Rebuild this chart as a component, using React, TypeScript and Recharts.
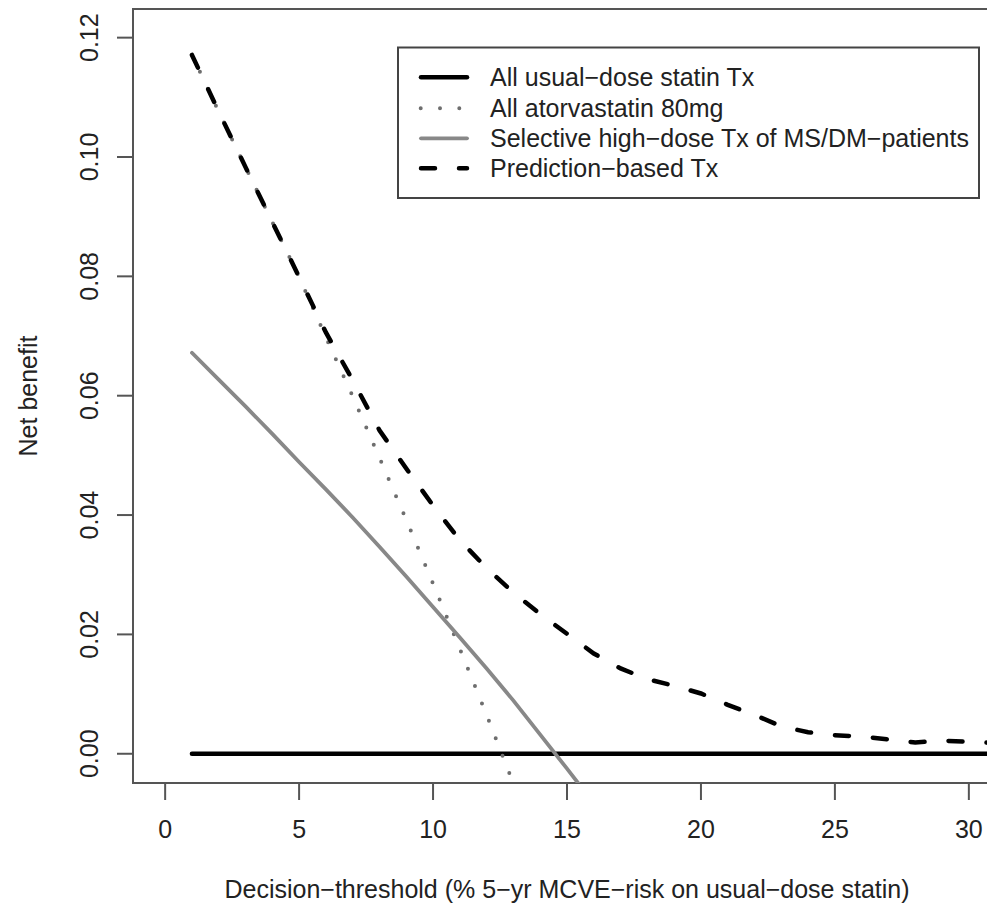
import React from 'react';
import { LineChart, Line, XAxis, YAxis, ReferenceArea } from 'recharts';

// decision thresholds (% 5-yr MCVE risk)
const thresholds = [1, 2, 3, 4, 5, 6, 7, 8, 9, 10, 11, 12, 13, 14, 15, 16, 17, 18, 19, 20, 21, 22, 23, 24, 25, 26, 27, 28, 29, 30, 31];

const usualDose = [0, 0, 0, 0, 0, 0, 0, 0, 0, 0, 0, 0, 0, 0, 0, 0, 0, 0, 0, 0, 0, 0, 0, 0, 0, 0, 0, 0, 0, 0, 0];
const atorvastatin80 = [0.1171, 0.1076, 0.0983, 0.0891, 0.0799, 0.0698, 0.0599, 0.0496, 0.0392, 0.0285, 0.0176, 0.0065, -0.005, -0.017];
const selectiveHighDose = [0.0672, 0.0627, 0.0582, 0.0536, 0.0489, 0.0443, 0.0396, 0.0347, 0.0297, 0.0246, 0.0195, 0.0143, 0.0089, 0.0032, -0.0025, -0.0083];
const predictionBased = [0.1171, 0.1076, 0.0983, 0.0891, 0.0799, 0.0706, 0.0626, 0.0542, 0.0478, 0.0416, 0.0358, 0.0311, 0.027, 0.0234, 0.0201, 0.0168, 0.0143, 0.0125, 0.0114, 0.0101, 0.0082, 0.0065, 0.0046, 0.0036, 0.0031, 0.0029, 0.0024, 0.0019, 0.0022, 0.002, 0.0018];

const xTicks = [0, 5, 10, 15, 20, 25, 30];
const yTicks = [0, 0.02, 0.04, 0.06, 0.08, 0.1, 0.12];

const legendLabels = [
    'All usual\u2212dose statin Tx',
    'All atorvastatin 80mg',
    'Selective high\u2212dose Tx of MS/DM\u2212patients',
    'Prediction\u2212based Tx',
];

const data = thresholds.map((t, i) => ({
    t,
    usual: usualDose[i] ?? null,
    atorva: atorvastatin80[i] ?? null,
    selective: selectiveHighDose[i] ?? null,
    prediction: predictionBased[i] ?? null,
}));

const FONT = '"Liberation Sans", Arial, Helvetica, sans-serif';
const TEXT = '#222';
const X_DOMAIN = [-1.2, 31.2];
const Y_DOMAIN = [-0.0049, 0.1248];

const styles = [
    { stroke: '#000', strokeWidth: 4.5, strokeDasharray: undefined, strokeLinecap: 'round' },
    { stroke: '#6e6e6e', strokeWidth: 4, strokeDasharray: '0 18.7', strokeLinecap: 'round' },
    { stroke: '#888', strokeWidth: 3.8, strokeDasharray: undefined, strokeLinecap: 'round' },
    { stroke: '#000', strokeWidth: 4.5, strokeDasharray: '14 24', strokeLinecap: 'round' },
];

const XTick = (props: any) => (
    <text x={props.x} y={838} textAnchor='middle' fontSize={25} fontFamily={FONT} fill={TEXT}>
        {props.payload.value}
    </text>
);

const YTick = (props: any) => (
    <text
        x={98}
        y={props.y}
        transform={`rotate(-90, 98, ${props.y})`}
        textAnchor='middle'
        fontSize={25}
        fontFamily={FONT}
        fill={TEXT}
    >
        {Number(props.payload.value).toFixed(2)}
    </text>
);

const LegendBox = () => {
    const rows = [77.3, 108.3, 138.3, 168.3];
    return (
        <svg width={987} height={904} style={{ position: 'absolute', left: 0, top: 0, pointerEvents: 'none' }}>
            <rect x={398} y={47.5} width={581} height={150.5} fill='#fff' stroke='#444' strokeWidth={2} />
            {legendLabels.map((label, i) => (
                <g key={label}>
                    {i === 1 ? (
                        <line x1={420.7} x2={462} y1={rows[i]} y2={rows[i]} {...(styles[i] as any)} strokeDasharray='0 19.3' />
                    ) : (
                        <line x1={421} x2={467} y1={rows[i]} y2={rows[i]} {...(styles[i] as any)} />
                    )}
                    <text x={490} y={rows[i] + 9} fontSize={25} fontFamily={FONT} fill={TEXT}>
                        {label}
                    </text>
                </g>
            ))}
        </svg>
    );
};

const App = () => {
    return (
        <div style={{ position: 'absolute', left: 0, top: 0, width: 987, height: 904, overflow: 'hidden', background: '#fff' }}>
            <LineChart width={1010} height={904} data={data} margin={{ top: 9, right: 9, bottom: 0, left: 0 }}>
                <XAxis
                    type='number'
                    dataKey='t'
                    domain={X_DOMAIN}
                    allowDataOverflow
                    ticks={xTicks}
                    tick={XTick}
                    tickSize={17}
                    tickLine={{ stroke: '#555', strokeWidth: 2 }}
                    axisLine={false}
                    height={121}
                    interval={0}
                />
                <YAxis
                    type='number'
                    domain={Y_DOMAIN}
                    allowDataOverflow
                    ticks={yTicks}
                    tick={YTick}
                    tickSize={16}
                    tickLine={{ stroke: '#555', strokeWidth: 2 }}
                    axisLine={false}
                    width={133}
                    interval={0}
                />
                <ReferenceArea
                    x1={X_DOMAIN[0]}
                    x2={X_DOMAIN[1]}
                    y1={Y_DOMAIN[0]}
                    y2={Y_DOMAIN[1]}
                    fill='none'
                    fillOpacity={0}
                    stroke='#555'
                    strokeWidth={2}
                    strokeOpacity={1}
                />
                <Line type='linear' dataKey='usual' dot={false} activeDot={false} isAnimationActive={false} {...(styles[0] as any)} />
                <Line type='linear' dataKey='atorva' dot={false} activeDot={false} isAnimationActive={false} {...(styles[1] as any)} />
                <Line type='linear' dataKey='selective' dot={false} activeDot={false} isAnimationActive={false} {...(styles[2] as any)} />
                <Line type='linear' dataKey='prediction' dot={false} activeDot={false} isAnimationActive={false} {...(styles[3] as any)} />
                <text x={567} y={898} textAnchor='middle' fontSize={25} fontFamily={FONT} fill={TEXT}>
                    Decision{'\u2212'}threshold (% 5{'\u2212'}yr MCVE{'\u2212'}risk on usual{'\u2212'}dose statin)
                </text>
                <text x={37} y={396} transform='rotate(-90, 37, 396)' textAnchor='middle' fontSize={25} fontFamily={FONT} fill={TEXT}>
                    Net benefit
                </text>
            </LineChart>
            <LegendBox />
        </div>
    );
};

export default App;
